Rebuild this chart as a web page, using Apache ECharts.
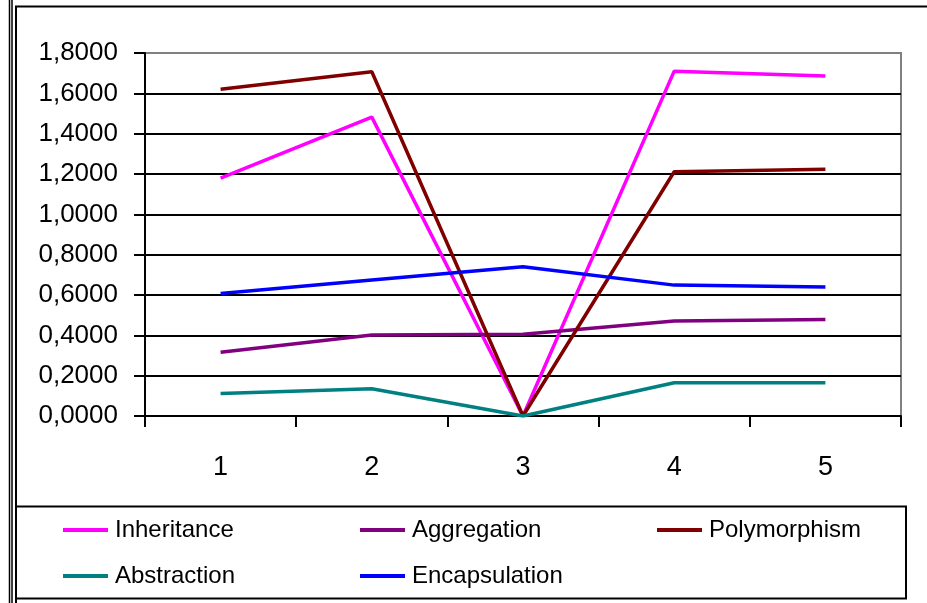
<!DOCTYPE html>
<html>
<head>
<meta charset="utf-8">
<script src="https://cdn.jsdelivr.net/npm/echarts@6/dist/echarts.min.js"></script>
<style>
html,body{margin:0;padding:0;background:#fff;}
#c{width:927px;height:603px;}
</style>
</head>
<body>
<div id="c"></div>
<script>
var categories = ['1', '2', '3', '4', '5'];
var inheritance   = [1.180, 1.482, 0.000, 1.710, 1.686];
var aggregation   = [0.316, 0.402, 0.405, 0.471, 0.479];
var polymorphism  = [1.620, 1.707, 0.000, 1.211, 1.223];
var abstraction   = [0.111, 0.135, 0.000, 0.165, 0.165];
var encapsulation = [0.608, 0.674, 0.740, 0.649, 0.640];
var yTicks = [0, 0.2, 0.4, 0.6, 0.8, 1.0, 1.2, 1.4, 1.6, 1.8];

var FONT = "'Liberation Sans', Arial, sans-serif";
var names = ['Inheritance', 'Aggregation', 'Polymorphism', 'Abstraction', 'Encapsulation'];
var colors = ['#FF00FF', '#800080', '#800000', '#008080', '#0000FF'];
var datas = [inheritance, aggregation, polymorphism, abstraction, encapsulation];

var legendPos = [[63, 516], [360, 516], [657, 516], [63, 562], [360, 562]];

var chart = echarts.init(document.getElementById('c'), null, {renderer: 'canvas'});

var gridColors = yTicks.map(function (v, i) { return i === yTicks.length - 1 ? '#808080' : '#000000'; });

var option = {
  animation: false,
  backgroundColor: '#ffffff',
  grid: {left: 145, right: 26, top: 53, bottom: 187, show: true, borderColor: '#808080', borderWidth: 2, backgroundColor: 'transparent'},
  xAxis: {
    type: 'category',
    data: categories,
    boundaryGap: true,
    axisLine: {lineStyle: {color: '#000', width: 2}},
    axisTick: {show: true, length: 11, lineStyle: {color: '#000', width: 2}},
    axisLabel: {color: '#000', fontFamily: FONT, fontSize: 27, margin: 38}
  },
  yAxis: {
    type: 'value',
    min: yTicks[0],
    max: yTicks[yTicks.length - 1],
    interval: 0.2,
    axisLine: {show: true, lineStyle: {color: '#000', width: 2}},
    axisTick: {show: true, length: 11, lineStyle: {color: '#000', width: 2}},
    splitLine: {show: true, lineStyle: {color: gridColors, width: 2}},
    axisLabel: {
      color: '#000', fontFamily: FONT, fontSize: 26, margin: 27,
      formatter: function (v) { return v.toFixed(4).replace('.', ','); }
    }
  },
  legend: names.map(function (n, i) {
    return {
      data: [n],
      left: legendPos[i][0],
      top: legendPos[i][1],
      padding: 0,
      icon: 'rect',
      itemWidth: 45,
      itemHeight: 4,
      selectedMode: false,
      textStyle: {color: '#000', fontFamily: FONT, fontSize: 24, lineHeight: 28, padding: [0, 0, 0, 2]}
    };
  }),
  series: names.map(function (n, i) {
    return {
      name: n,
      type: 'line',
      data: datas[i],
      showSymbol: false,
      symbol: 'none',
      color: colors[i],
      lineStyle: {color: colors[i], width: 3.5},
      z: 3 + i
    };
  }),
  graphic: [
    {type: 'line', silent: true, shape: {x1: 9.5, y1: 0, x2: 9.5, y2: 603}, style: {stroke: '#000', lineWidth: 1.5}},
    {type: 'line', silent: true, shape: {x1: 12, y1: 0, x2: 12, y2: 603}, style: {stroke: '#000', lineWidth: 1.5}},
    {type: 'line', silent: true, shape: {x1: 16, y1: 6, x2: 16, y2: 603}, style: {stroke: '#000', lineWidth: 2}},
    {type: 'line', silent: true, shape: {x1: 15, y1: 6.5, x2: 927, y2: 6.5}, style: {stroke: '#000', lineWidth: 2}},
    {type: 'rect', silent: true, shape: {x: 16, y: 506.5, width: 890, height: 92}, style: {stroke: '#000', lineWidth: 2, fill: 'transparent'}}
  ]
};
chart.setOption(option);
</script>
</body>
</html>
